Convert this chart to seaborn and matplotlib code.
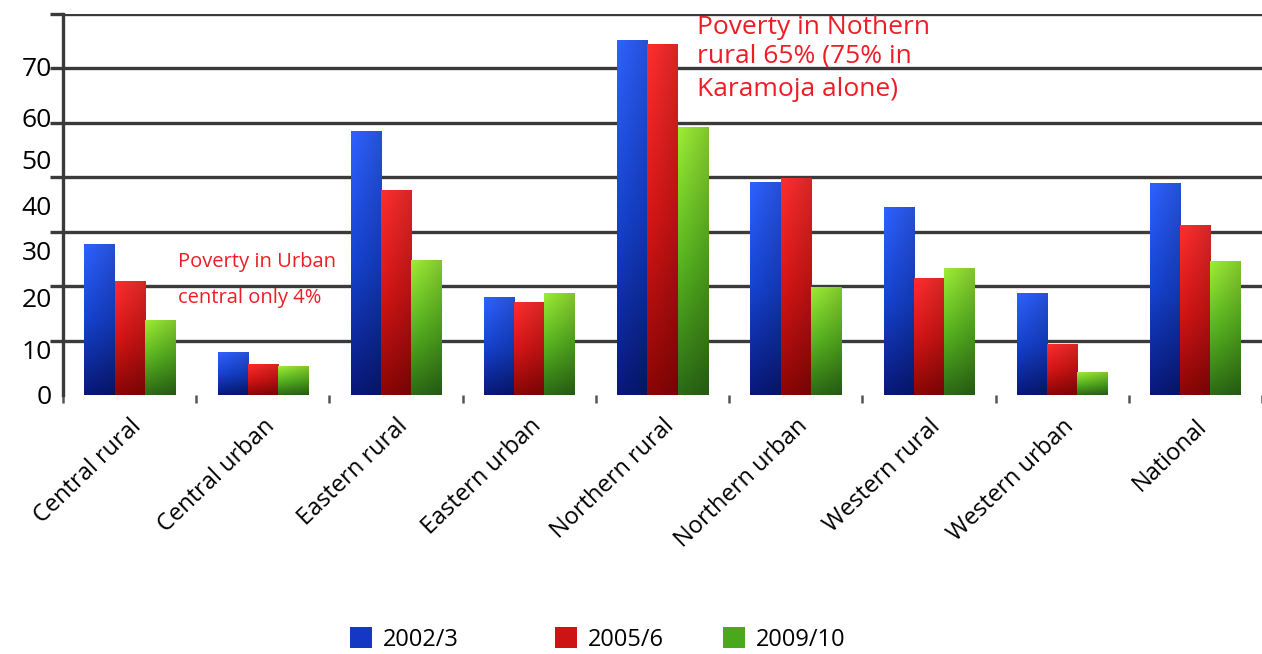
import numpy as np
import pandas as pd
import matplotlib
matplotlib.use("Agg")
import matplotlib.pyplot as plt
import seaborn as sns
from matplotlib.patches import Patch

# Poverty headcount (%) by region and survey round
regions = ["Central rural", "Central urban", "Eastern rural", "Eastern urban",
           "Northern rural", "Northern urban", "Western rural", "Western urban",
           "National"]
years = ["2002/3", "2005/6", "2009/10"]
pov_2002 = [27.8, 7.9, 48.5, 18.0, 65.3, 39.2, 34.6, 18.8, 39.0]
pov_2005 = [21.0, 5.7, 37.7, 17.1, 64.5, 39.9, 21.5, 9.4, 31.3]
pov_2009 = [13.8, 5.3, 24.8, 18.8, 49.3, 19.9, 23.3, 4.2, 24.6]
ytick_text = ["0", "10", "20", "30", "40", "50", "60", "70"]

df = pd.DataFrame({
    "region": regions * 3,
    "year": [y for y in years for _ in regions],
    "value": pov_2002 + pov_2005 + pov_2009,
})

sns.set_theme(style="white")
plt.rcParams["font.family"] = ["Open Sans", "DejaVu Sans"]
plt.rcParams["text.color"] = "black"

# (top, middle, bottom) colours for each series' vertical gradient
shades = [((0.17, 0.36, 0.95), (0.08, 0.25, 0.78), (0.03, 0.09, 0.45)),
          ((0.95, 0.17, 0.17), (0.80, 0.08, 0.08), (0.52, 0.02, 0.02)),
          ((0.58, 0.88, 0.20), (0.33, 0.68, 0.12), (0.16, 0.40, 0.08))]
mids = ["#1438c4", "#cc1414", "#4aa81c"]

fig = plt.figure(figsize=(12.62, 6.54), dpi=100)
ax = fig.add_axes([63 / 1262, 259 / 654, 1 - 63 / 1262, 381 / 654])

sns.barplot(data=df, x="region", y="value", hue="year", order=regions,
            hue_order=years, palette=mids, saturation=1, width=0.68,
            legend=False, ax=ax, edgecolor="none", zorder=3)


def gradient_fill(ax, patch, top, mid, bottom):
    x0, y0 = patch.get_x(), patch.get_y()
    w, h = patch.get_width(), patch.get_height()
    ny, nx = 128, 32
    t = np.linspace(0, 1, ny)
    stops = np.array([bottom, mid, top])
    img = np.stack([np.interp(t, [0, 0.5, 1], stops[:, k]) for k in range(3)],
                   axis=-1)[:, None, :]
    horiz = np.linspace(1.06, 0.88, nx)[None, :, None]
    img = np.clip(img * horiz, 0, 1)
    im = ax.imshow(img, extent=[x0, x0 + w, y0, y0 + h], origin="lower",
                   aspect="auto", interpolation="bilinear",
                   zorder=patch.get_zorder() + 0.1)
    im.set_clip_path(patch)


for cont, (top, mid, bot) in zip(ax.containers, shades):
    for p in cont.patches:
        gradient_fill(ax, p, top, mid, bot)

ax.set_xlim(-0.5, 8.5)
ax.set_ylim(0, 70)
ax.set_xlabel("")
ax.set_ylabel("")

# gridlines every 10 with short ticks at the axis
grid_c = "#3a3a3a"
ax.set_yticks(np.arange(0, 71, 10), minor=True)
ax.yaxis.grid(True, which="minor", color=grid_c, lw=2.4, zorder=1)
ax.yaxis.grid(False, which="major")
ax.tick_params(axis="y", which="minor", left=True, length=9.5, width=2.4,
               color=grid_c)
ax.set_yticks([0, 8.3, 18.0, 26.5, 34.9, 43.2, 50.9, 60.3])
ax.set_yticklabels(ytick_text)
ax.tick_params(axis="y", which="major", length=0, pad=8, labelsize=19,
               labelcolor="black")

ax.set_xticks(np.arange(-0.5, 9, 1), minor=True)
ax.tick_params(axis="x", which="minor", bottom=True, length=6, width=1.8,
               color="#555555")
ax.tick_params(axis="x", which="major", length=0, pad=14, labelsize=17,
               labelcolor="black")
for lab in ax.get_xticklabels():
    lab.set_rotation(44)
    lab.set_ha("right")
    lab.set_rotation_mode("anchor")

for s in ["top", "right", "bottom"]:
    ax.spines[s].set_visible(False)
ax.spines["left"].set_color(grid_c)
ax.spines["left"].set_linewidth(2.4)

red = "#ee1c25"
ax.text(0.36, 24.4, "Poverty in Urban", color=red, fontsize=14.5,
        va="center", ha="left", zorder=5)
ax.text(0.36, 17.8, "central only 4%", color=red, fontsize=14.5,
        va="center", ha="left", zorder=5)
ax.text(4.26, 64.9, "Poverty in Nothern\nrural 65% (75% in", color=red,
        fontsize=19, va="center", ha="left", linespacing=1.15, zorder=5)
ax.text(4.26, 56.2, "Karamoja alone)", color=red, fontsize=19,
        va="center", ha="left", zorder=5)

# legend entries placed individually along the bottom
legend_x = [350 / 1262, 555 / 1262, 723 / 1262]
for c, yr, lx in zip(mids, years, legend_x):
    fig.legend([Patch(facecolor=c, edgecolor="none")], [yr], loc="center left",
               bbox_to_anchor=(lx, 0.022), frameon=False, fontsize=17,
               handlelength=0.95, handleheight=0.95, handletextpad=0.45,
               borderpad=0, borderaxespad=0)

fig.savefig("out.png", dpi=100)
